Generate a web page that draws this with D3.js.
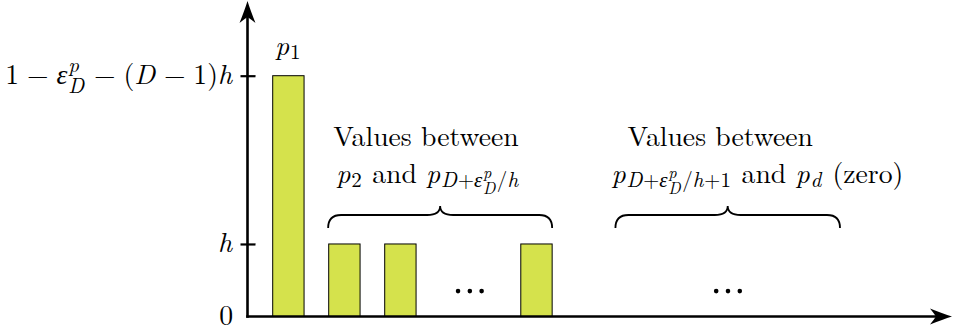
<!DOCTYPE html>
<html>
<head>
<meta charset="utf-8">
<script src="https://cdn.jsdelivr.net/npm/d3@7"></script>
<style>
  html, body { margin: 0; padding: 0; background: #fff; }
  svg { display: block; }
</style>
</head>
<body>
<svg id="chart" width="953" height="334"></svg>
<script>
// ---- data ----------------------------------------------------------------
// probability mass per coordinate (in units of h)
const categories = ["p1", "p2", "p3", "pD+eps/h"];
const barX       = [0.73, 1.73, 2.73, 5.16];   // bar centre along the index axis
const values     = [3.32, 1, 1, 1];            // 1 - eps - (D-1)h, then h
const tickValues = [0, 1, 3.32];
// brace groups: [start, end] along the index axis
const braceStart = [1.44, 6.57];
const braceEnd   = [5.44, 10.58];
// ellipsis positions: centre along the index axis, height (in h)
const dotsX = [3.97, 8.58];
const dotsY = [0.35, 0.35];

// ---- scales --------------------------------------------------------------
const x = d3.scaleLinear().domain([0, 12.58]).range([247.5, 952]);
const y = d3.scaleLinear().domain([0, 4.35]).range([316.5, 1]);
const barW = 0.56;
const FS = 27.7;
const FONT = "Latin Modern Roman";

const svg = d3.select("#chart");

// ---- small math typesetter (italic symbols, sub/superscripts) -------------
function put(g, s, cx, cy, size, italic) {
  const t = g.append("text")
    .attr("x", cx).attr("y", cy)
    .attr("font-family", FONT)
    .attr("font-size", size)
    .attr("font-style", italic ? "italic" : "normal")
    .attr("fill", "#000")
    .style("white-space", "pre")
    .text(s);
  return t.node().getComputedTextLength();
}
// script sizes: a bit larger than 0.7 (wider optical-size glyphs)
const scriptScale = [0.76, 0.78];
function typeset(g, items, x0, y0, size, depth = 0) {
  let cx = x0;
  for (const it of items) {
    if (typeof it === "string") cx += put(g, it, cx, y0, size, false);
    else if (it.op) {
      const sp = depth === 0 ? size * 0.285 : 0;
      cx += sp;
      cx += put(g, it.op, cx, y0, size, false);
      cx += sp;
    }
    else if (it.m) cx += put(g, it.m, cx, y0, size, true) + size * 0.03;
    else {
      const both = it.sub && it.sup;
      const s2 = size * scriptScale[Math.min(depth, 1)];
      let w = 0;
      if (it.sup) w = Math.max(w, typeset(g, it.sup, cx, y0 - size * 0.42, s2, depth + 1));
      if (it.sub) w = Math.max(w, typeset(g, it.sub, cx, y0 + size * (both ? 0.32 : 0.16), s2, depth + 1));
      cx += w + size * 0.05;
    }
  }
  return cx - x0;
}
function mathLabel(items, px, py, size, anchor) {
  const g = svg.append("g");
  const w = typeset(g, items, 0, 0, size);
  const dx = anchor === "end" ? -w : anchor === "middle" ? -w / 2 : 0;
  g.attr("transform", `translate(${px + dx},${py})`);
  return g;
}

// ---- bars ----------------------------------------------------------------
svg.append("g").selectAll("rect")
  .data(values)
  .join("rect")
  .attr("x", (d, i) => x(barX[i] - barW / 2))
  .attr("width", (d, i) => x(barX[i] + barW / 2) - x(barX[i] - barW / 2))
  .attr("y", d => y(d))
  .attr("height", d => y(0) - y(d))
  .attr("fill", "#d5e24c")
  .attr("stroke", "#000")
  .attr("stroke-width", 1);

// ---- axes ----------------------------------------------------------------
const yAxis = d3.axisLeft(y).tickValues(tickValues.slice(1)).tickSize(7).tickFormat("");
const ag = svg.append("g").attr("transform", `translate(${x(0)},0)`).call(yAxis);
ag.select(".domain").remove();
ag.selectAll(".tick line").attr("x2", 8).attr("x1", -7).attr("stroke", "#000").attr("stroke-width", 2.2);

const arrowPath = "M0,0 Q-9,-2.8 -22,-8 Q-18,-3 -16,0 Q-18,3 -22,8 Q-9,2.8 0,0 Z";
// y axis line + arrow
svg.append("line")
  .attr("x1", x(0)).attr("x2", x(0))
  .attr("y1", y(0) + 1.2).attr("y2", y(y.domain()[1]) + 16)
  .attr("stroke", "#000").attr("stroke-width", 2.6);
svg.append("path").attr("d", arrowPath)
  .attr("transform", `translate(${x(0)},${y(y.domain()[1])}) rotate(-90)`);
// x axis line + arrow
svg.append("line")
  .attr("x1", x(0) - 1.3).attr("x2", x(x.domain()[1]) - 16)
  .attr("y1", y(0)).attr("y2", y(0))
  .attr("stroke", "#000").attr("stroke-width", 2.6);
svg.append("path").attr("d", arrowPath)
  .attr("transform", `translate(${x(x.domain()[1])},${y(0)})`);

// ---- tick labels ---------------------------------------------------------
const labX = x(0) - 14.5;
mathLabel(["1", {op: "−"}, {m: "ε"}, {sup: [{m: "p"}], sub: [{m: "D"}]}, {op: "−"}, "(", {m: "D"}, {op: "−"}, "1)", {m: "h"}],
  labX, y(tickValues[2]) + 8, FS, "end");
mathLabel([{m: "h"}], labX, y(tickValues[1]) + 8, FS, "end");
mathLabel(["0"], labX, y(tickValues[0]) + 8.5, FS, "end");

// p1 label above the first bar
mathLabel([{m: "p"}, {sub: ["1"]}], x(barX[0]), y(values[0]) - 21, FS, "middle");

// ---- braces --------------------------------------------------------------
function bracePath(x1, x2, yb) {
  const xm = (x1 + x2) / 2, ym = yb - 13, yt = yb - 22, r = 13;
  const p = d3.path();
  p.moveTo(x1, yb);
  p.quadraticCurveTo(x1, ym, x1 + r, ym);
  p.lineTo(xm - r, ym);
  p.quadraticCurveTo(xm, ym, xm, yt);
  p.quadraticCurveTo(xm, ym, xm + r, ym);
  p.lineTo(x2 - r, ym);
  p.quadraticCurveTo(x2, ym, x2, yb);
  return p.toString();
}
svg.append("g").selectAll("path")
  .data(braceStart)
  .join("path")
  .attr("d", (d, i) => bracePath(x(d), x(braceEnd[i]), 228))
  .attr("fill", "none")
  .attr("stroke", "#000")
  .attr("stroke-width", 1.8);

// ---- ellipses ------------------------------------------------------------
dotsX.forEach((dx, i) => {
  svg.append("g").selectAll("circle")
    .data([-1, 0, 1])
    .join("circle")
    .attr("cx", k => x(dx) + k * 11.8)
    .attr("cy", y(dotsY[i]))
    .attr("r", 2.3)
    .attr("fill", "#000");
});

// ---- group annotations ---------------------------------------------------
mathLabel(["Values between"], x(braceStart[0]) + 5, 146, FS, "start");
mathLabel([{m: "p"}, {sub: ["2"]}, " and ", {m: "p"},
  {sub: [{m: "D"}, "+", {m: "ε"}, {sup: [{m: "p"}], sub: [{m: "D"}]}, "/", {m: "h"}]}],
  x(braceStart[0]) + 8, 182.5, FS, "start");

mathLabel(["Values between"], x(braceStart[1]) + 12, 146, FS, "start");
mathLabel([{m: "p"},
  {sub: [{m: "D"}, "+", {m: "ε"}, {sup: [{m: "p"}], sub: [{m: "D"}]}, "/", {m: "h"}, "+1"]},
  " and ", {m: "p"}, {sub: [{m: "d"}]}, " (zero)"],
  x(braceStart[1]) - 4, 182.5, FS, "start");
</script>
</body>
</html>
